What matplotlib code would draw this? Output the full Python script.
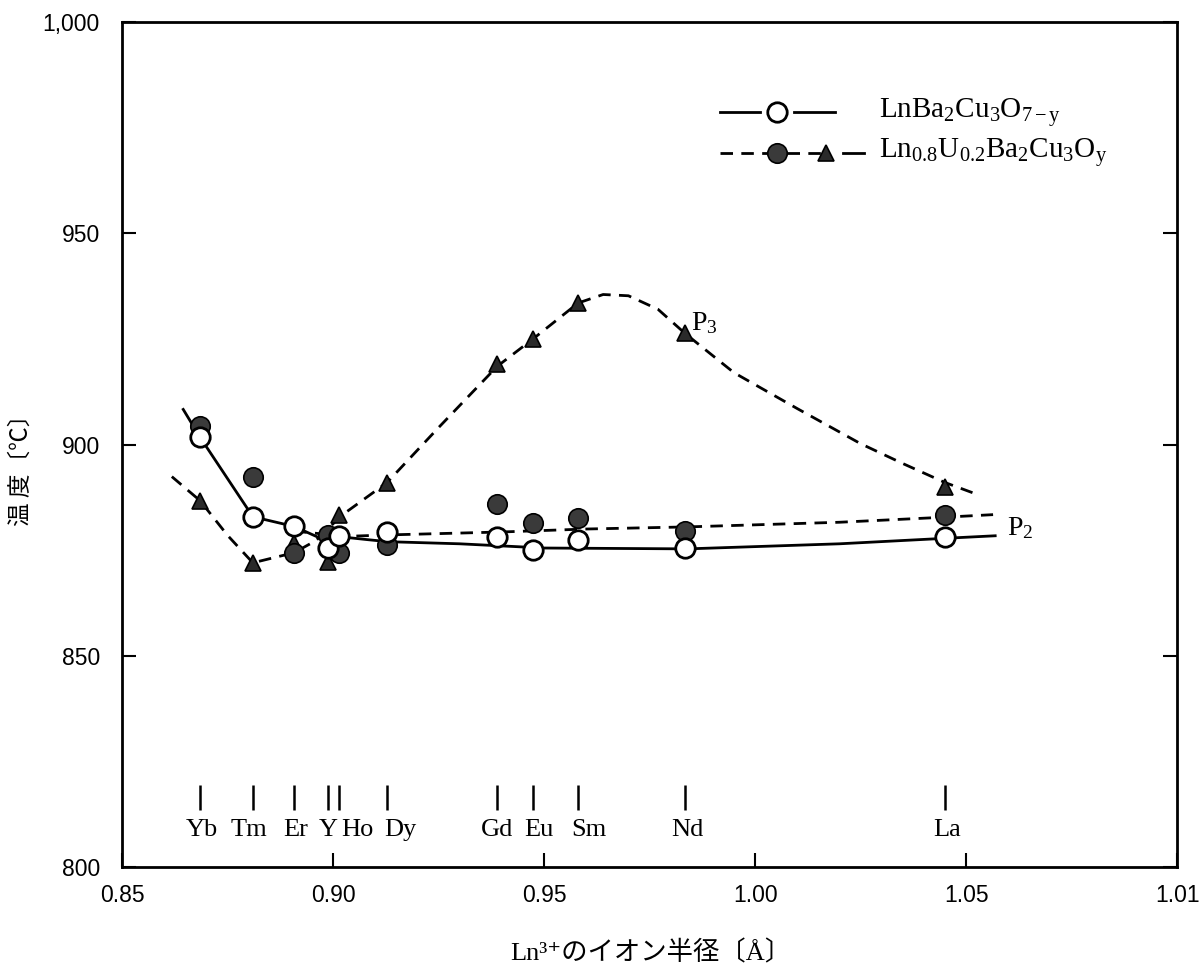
import matplotlib
matplotlib.use("Agg")
import matplotlib.pyplot as plt

# ── Fonts ─────────────────────────────────────────────────────
SERIF = ["Liberation Serif", "Noto Sans CJK JP", "DejaVu Sans"]
SANS = ["Liberation Sans", "DejaVu Sans"]
JP = ["Noto Sans CJK JP", "DejaVu Sans"]
plt.rcParams["font.family"] = SANS
plt.rcParams["mathtext.fontset"] = "custom"
plt.rcParams["mathtext.rm"] = "Liberation Serif"
plt.rcParams["mathtext.it"] = "Liberation Serif:italic"

# ── Data ──────────────────────────────────────────────────────
elements = ["Yb", "Tm", "Er", "Y", "Ho", "Dy", "Gd", "Eu", "Sm", "Nd", "La"]
radius   = [0.8685, 0.8810, 0.8908, 0.8988, 0.9014, 0.9128,
            0.9389, 0.9474, 0.9581, 0.9834, 1.0450]
label_x  = [0.8690, 0.8801, 0.8912, 0.8988, 0.9057, 0.9159,
            0.9389, 0.9488, 0.9607, 0.9839, 1.0455]

# LnBa2Cu3O7-y  (open circles)
open_y   = [901.7, 882.9, 880.6, 875.6, 878.4, 879.4,
            878.0, 875.0, 877.5, 875.5, 878.2]
# Ln0.8U0.2Ba2Cu3Oy  (filled circles = P2, triangles = P3)
filled_y = [904.3, 892.2, 874.4, 878.7, 874.4, 876.3,
            886.0, 881.5, 882.5, 879.5, 883.4]
tri_y    = [886.7, 872.0, 876.8, 872.3, 883.2, 891.0,
            919.0, 924.9, 933.6, 926.3, 890.0]

# hand-drawn guide curves
solid_x = [0.8645, 0.8685, 0.8810, 0.8908, 0.8988, 0.9014, 0.9080,
           0.9130, 0.9300, 0.9500, 0.9840, 1.0200, 1.0450, 1.0569]
solid_y = [908.3, 901.7, 882.9, 880.6, 877.0, 878.2, 877.5,
           877.0, 876.5, 875.5, 875.3, 876.5, 877.8, 878.4]

p2_x = [0.8908, 0.8988, 0.9014, 0.9130, 0.9400, 0.9600,
        0.9840, 1.0200, 1.0450, 1.0564]
p2_y = [879.5, 878.7, 878.2, 878.6, 879.3, 880.0,
        880.5, 881.6, 882.8, 883.4]

p3_x = [0.8618, 0.8685, 0.8750, 0.8810, 0.8908, 0.8960, 0.9020,
        0.9128, 0.9250, 0.9389, 0.9474, 0.9581, 0.9640, 0.9700,
        0.9770, 0.9834, 0.9950, 1.0100, 1.0250, 1.0350, 1.0450, 1.0526]
p3_y = [892.4, 886.7, 878.5, 872.0, 874.4, 877.3, 883.2,
        891.0, 904.0, 918.5, 925.0, 933.5, 935.5, 935.2,
        932.0, 926.3, 917.0, 908.5, 900.2, 895.5, 891.0, 888.2]

yticks = [800, 850, 900, 950, 1000]
ytick_labels = ["800", "850", "900", "950", "1,000"]
xticks = [0.85, 0.90, 0.95, 1.00, 1.05, 1.10]
xtick_labels = ["0.85", "0.90", "0.95", "1.00", "1.05", "1.01"]

# ── Plot ──────────────────────────────────────────────────────
fig = plt.figure(figsize=(12, 9.68), dpi=100)
ax = fig.add_axes([0.1017, 0.1043, 0.8792, 0.8730])

DASH = (4.5, 3.0)
ax.plot(solid_x, solid_y, color="black", lw=2.0, zorder=2)
ax.plot(p2_x, p2_y, color="black", lw=2.0, dashes=DASH, zorder=2)
ax.plot(p3_x, p3_y, color="black", lw=2.0, dashes=DASH, zorder=2)

ax.plot(radius, tri_y, ls="none", marker="^", ms=12,
        mfc="#2a2a2a", mec="black", mew=1.2, zorder=3)
ax.plot(radius, filled_y, ls="none", marker="o", ms=14,
        mfc="#3a3a3a", mec="black", mew=1.2, zorder=4)
ax.plot(radius, open_y, ls="none", marker="o", ms=14,
        mfc="white", mec="black", mew=2.0, zorder=5)

# element markers along the bottom
ax.vlines(radius, 813.5, 819.5, color="black", lw=1.8)
for name, lx in zip(elements, label_x):
    ax.text(lx, 808.8, name, ha="center", va="center",
            fontsize=19, family=SERIF)

ax.text(0.9848, 928.7, "P$_3$", ha="left", va="center", fontsize=20,
        family=SERIF)
ax.text(1.0597, 880.1, "P$_2$", ha="left", va="center", fontsize=20,
        family=SERIF)

# legend, drawn by hand like the original
tr = ax.transAxes
ly1, ly2 = 0.893, 0.845
ax.plot([0.567, 0.605], [ly1, ly1], color="black", lw=2.0, transform=tr)
ax.plot([0.637, 0.676], [ly1, ly1], color="black", lw=2.0, transform=tr)
ax.plot([0.621], [ly1], marker="o", ms=14, mfc="white", mec="black",
        mew=2.0, transform=tr)
ax.plot([0.567, 0.611], [ly2, ly2], color="black", lw=2.0, dashes=DASH,
        transform=tr)
ax.plot([0.630, 0.666], [ly2, ly2], color="black", lw=2.0, dashes=DASH,
        transform=tr)
ax.plot([0.683, 0.703], [ly2, ly2], color="black", lw=2.0, transform=tr)
ax.plot([0.621], [ly2], marker="o", ms=14, mfc="#3a3a3a", mec="black",
        mew=1.2, transform=tr)
ax.plot([0.667], [ly2], marker="^", ms=12, mfc="#2a2a2a", mec="black",
        mew=1.2, transform=tr)
ax.text(0.717, ly1, r"LnBa$_2$Cu$_3$O$_{\mathrm{7-y}}$", transform=tr,
        ha="left", va="center", fontsize=21, family=SERIF)
ax.text(0.717, ly2, r"Ln$_{0.8}$U$_{0.2}$Ba$_2$Cu$_3$O$_{\mathrm{y}}$",
        transform=tr, ha="left", va="center", fontsize=21, family=SERIF)

ax.set_xlim(0.85, 1.10)
ax.set_ylim(800, 1000)
ax.set_xticks(xticks)
ax.set_xticklabels(xtick_labels)
ax.set_yticks(yticks)
ax.set_yticklabels(ytick_labels)
ax.tick_params(direction="in", length=10, width=1.5, labelsize=16.5,
               left=True, right=True, bottom=True, top=False)
ax.tick_params(axis="y", pad=16)
ax.tick_params(axis="x", pad=12)
for spine in ax.spines.values():
    spine.set_linewidth(2.0)

fig.text(0.542, 0.0155, "Ln³⁺のイオン半径〔Å〕", ha="center", va="center",
         fontsize=19, family=SERIF)
fig.text(0.018, 0.52, "温 度〔℃〕", rotation=90, ha="center", va="center",
         fontsize=17, family=JP)

fig.savefig("out.png", dpi=100)
